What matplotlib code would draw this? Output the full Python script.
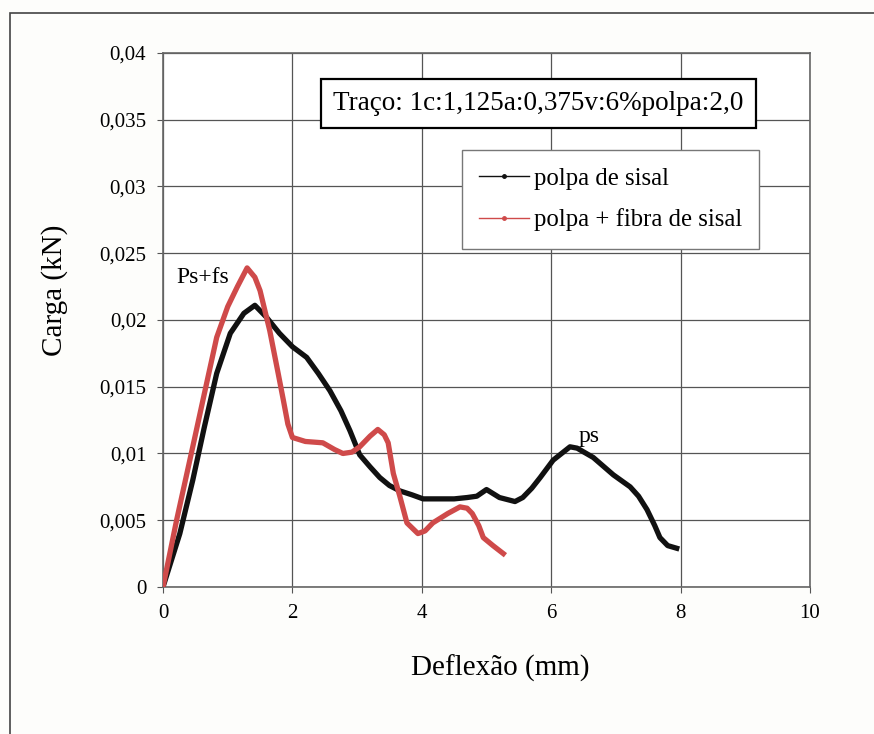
import numpy as np
import matplotlib.pyplot as plt
from matplotlib.lines import Line2D
from matplotlib.patches import Rectangle

plt.rcParams['font.family'] = ['Liberation Serif', 'DejaVu Serif']

# polpa de sisal (black)
x_ps = [0, 0.26, 0.46, 0.64, 0.83, 1.04, 1.25, 1.42, 1.6, 1.8, 2.0, 2.22, 2.4, 2.58,
        2.75, 2.89, 3.04, 3.2, 3.35, 3.5, 3.66, 3.85, 4.02, 4.3, 4.5, 4.7, 4.85, 5.0,
        5.2, 5.44, 5.56, 5.7, 5.83, 6.03, 6.29, 6.4, 6.65, 6.96, 7.22, 7.35, 7.48,
        7.6, 7.68, 7.8, 7.94]
y_ps = [0, 0.0040, 0.0080, 0.0120, 0.0160, 0.0190, 0.0205, 0.0211, 0.0202, 0.0190,
        0.0180, 0.0172, 0.0160, 0.0147, 0.0132, 0.0117, 0.0099, 0.0090, 0.0082,
        0.0076, 0.0072, 0.0069, 0.0066, 0.0066, 0.0066, 0.0067, 0.0068, 0.0073,
        0.0067, 0.0064, 0.0067, 0.0074, 0.0082, 0.0095, 0.0105, 0.0104, 0.0097,
        0.0084, 0.0075, 0.0068, 0.0058, 0.0046, 0.0037, 0.0031, 0.0029]

# polpa + fibra de sisal (red)
x_pf = [0, 0.21, 0.46, 0.64, 0.83, 1.0, 1.15, 1.3, 1.42, 1.5, 1.65, 1.78, 1.86, 1.93,
        2.0, 2.2, 2.47, 2.65, 2.78, 2.92, 3.04, 3.2, 3.32, 3.42, 3.48, 3.56, 3.66,
        3.77, 3.94, 4.05, 4.17, 4.4, 4.59, 4.7, 4.78, 4.88, 4.95, 5.1, 5.26]
y_pf = [0, 0.0050, 0.0105, 0.0145, 0.0187, 0.0210, 0.0225, 0.0239, 0.0232, 0.0222,
        0.0192, 0.0160, 0.0140, 0.0122, 0.0112, 0.0109, 0.0108, 0.0103, 0.0100,
        0.0101, 0.0105, 0.0113, 0.0118, 0.0114, 0.0108, 0.0085, 0.0068, 0.0048,
        0.0040, 0.0042, 0.0048, 0.0055, 0.0060, 0.0059, 0.0055, 0.0046, 0.0037,
        0.0031, 0.0025]

x_ticks = [0, 2, 4, 6, 8, 10]
y_ticks = [0, 0.005, 0.01, 0.015, 0.02, 0.025, 0.03, 0.035, 0.04]
y_tick_labels = ['0', '0,005', '0,01', '0,015', '0,02', '0,025', '0,03', '0,035', '0,04']

black = '#111111'
red = '#cf4a4a'

fig = plt.figure(figsize=(8.74, 7.34), dpi=100)
fig.patch.set_facecolor('#fdfdfb')
ax = fig.add_axes([0.1865, 0.2003, 0.7403, 0.7275])
ax.set_facecolor('white')

ax.plot(x_ps, y_ps, color=black, lw=3.8, solid_joinstyle='round', zorder=3)
ax.plot(x_pf, y_pf, color=red, lw=3.8, solid_joinstyle='round', zorder=3)

ax.set_xlim(0, 10)
ax.set_ylim(0, 0.04)
ax.set_xticks(x_ticks)
ax.set_xticklabels([str(t) for t in x_ticks])
ax.set_yticks(y_ticks)
ax.set_yticklabels(y_tick_labels)
ax.tick_params(labelsize=15, length=4, color='#555555', pad=8)
ax.grid(True, color='#555555', lw=0.9)
ax.set_axisbelow(True)
for s in ax.spines.values():
    s.set_color('#666666')
    s.set_linewidth(1.2)

ax.set_xlabel('Deflexão (mm)', fontsize=21)
ax.set_ylabel('Carga (kN)', fontsize=21)
ax.xaxis.set_label_coords(0.521, -0.127)
ax.yaxis.set_label_coords(-0.147, 0.556)

ax.text(5.8, 0.0362, 'Traço: 1c:1,125a:0,375v:6%polpa:2,0', fontsize=19.5,
        ha='center', va='center', zorder=5,
        bbox=dict(boxstyle='square,pad=0.45', fc='white', ec='black', lw=1.6))
ax.text(0.62, 0.0232, 'Ps+fs', fontsize=17, ha='center', va='center', zorder=4)
ax.text(6.58, 0.0113, 'ps', fontsize=17, ha='center', va='center', zorder=4)

handles = [Line2D([], [], color=black, lw=1, marker='o', ms=2.5),
           Line2D([], [], color=red, lw=1, marker='o', ms=2.5)]
leg = ax.legend(handles, ['polpa de sisal', 'polpa + fibra de sisal'],
                loc='upper left', bbox_to_anchor=(0.462, 0.818), fontsize=17.8,
                fancybox=False, framealpha=1, edgecolor='#777777',
                handlelength=2.0, handletextpad=0.2, borderpad=0.7,
                labelspacing=0.75, borderaxespad=0)
leg.get_frame().set_linewidth(1.0)
leg.set_zorder(5)

# outer chart frame
fig.patches.append(Rectangle((0.0114, -0.1), 1.2, 1.082, transform=fig.transFigure,
                             fill=False, ec='#444444', lw=1.2))

fig.savefig('out.png', dpi=100, facecolor=fig.get_facecolor())
